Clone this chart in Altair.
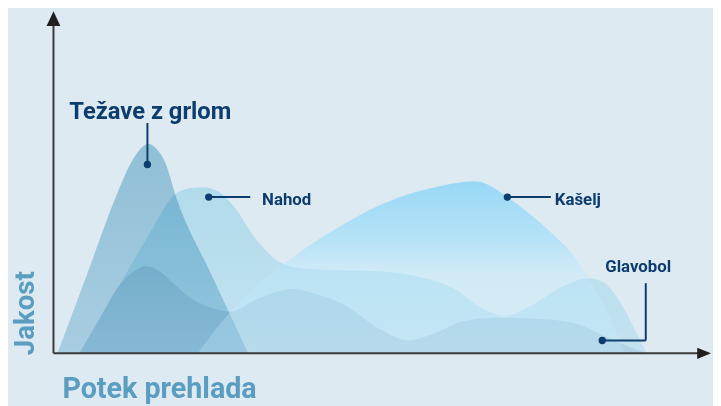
import altair as alt
import pandas as pd

# ---- data (x = course of the cold, y = intensity) ----
throat_x = [4, 34, 63, 78, 88, 96, 104, 113, 124, 160, 197]
throat_y = [0, 80, 158, 192, 207, 212, 207, 193, 158, 79, 0]

nose_x = [26, 46, 66, 96, 122, 138, 151, 166, 183, 203, 229, 250, 290, 329, 379, 406, 431, 456, 486, 516, 541, 556, 573, 586, 600]
nose_y = [0, 34, 68, 119, 160, 167, 168, 164, 148, 118, 92, 86, 84, 83, 75, 65, 47, 38, 50, 68, 76, 72, 52, 28, 0]

cough_x = [146, 179, 205, 231, 262, 296, 326, 356, 386, 406, 426, 446, 459, 500, 525, 541, 560, 578]
cough_y = [0, 42, 68, 89, 111, 132, 148, 160, 168, 172, 174, 167, 158, 125, 100, 76, 42, 0]

head_x = [26, 46, 66, 80, 93, 106, 120, 136, 160, 179, 200, 213, 243, 265, 296, 329, 359, 385, 413, 446, 486, 513, 535, 556, 579, 600]
head_y = [0, 34, 68, 82, 88, 84, 72, 58, 46, 42, 52, 58, 65, 60, 48, 25, 13, 20, 32, 36, 35, 33, 28, 18, 8, 0]

labels = ["Težave z grlom", "Nahod", "Kašelj", "Glavobol"]
label_x = [16, 211, 507, 558]
label_y = [237, 150, 150, 82]

dot_x = [95, 157, 459, 555]
dot_y = [191, 158, 158, 13]

x_title = "Potek prehlada"
y_title = "Jakost"

FONT = "Roboto"
NAVY = "#0c3d6e"
TITLE_C = "#5a9dc0"
BG = "#ddeaf2"
AX = "#3a3a3a"

X = alt.Scale(domain=[0, 664], nice=False, zero=False)
Y = alt.Scale(domain=[0, 345], nice=False, zero=False)


def frame(xs, ys):
    return pd.DataFrame({"x": xs, "y": ys})


def grad(stops):
    return alt.Gradient(
        gradient="linear",
        stops=[alt.GradientStop(color=c, offset=o) for o, c in stops],
        x1=0, x2=0, y1=0, y2=1,
    )


def area(xs, ys, g, blend=None, **kw):
    opts = dict(interpolate="monotone", color=g, **kw)
    if blend:
        opts["blend"] = blend
    return alt.Chart(frame(xs, ys)).mark_area(**opts).encode(
        x=alt.X("x:Q", scale=X, axis=None),
        y=alt.Y("y:Q", scale=Y, axis=None, stack=None),
    )


throat = area(throat_x, throat_y, grad([(0, "#a6d1e2"), (1, "#c3e0ee")]), blend="multiply")
nose = area(nose_x, nose_y, grad([(0, "#cdeff8"), (1, "#e2f7fd")]), blend="multiply")
head = area(head_x, head_y, grad([(0, "#e0eaf0"), (1, "#e6eef3")]), blend="multiply")
cough = area(
    cough_x, cough_y,
    grad([
        (0, "rgba(125,209,247,0.72)"),
        (0.35, "rgba(150,220,250,0.55)"),
        (0.55, "rgba(190,235,255,0.36)"),
        (1, "rgba(200,238,255,0.28)"),
    ]),
)

# axes with arrow heads
ax_df = pd.DataFrame({"a": [0]})
y_axis = alt.Chart(ax_df).mark_rule(color=AX, strokeWidth=2).encode(
    x=alt.value(0), y=alt.value(345), y2=alt.value(12))
x_axis = alt.Chart(ax_df).mark_rule(color=AX, strokeWidth=2).encode(
    x=alt.value(0), x2=alt.value(654), y=alt.value(345))
y_arrow = alt.Chart(ax_df).mark_point(
    shape="M0,-1L0.93,1L-0.93,1Z", filled=True, size=225, color="#231f20", opacity=1, strokeWidth=0
).encode(x=alt.value(0), y=alt.value(6.5))
x_arrow = alt.Chart(ax_df).mark_point(
    shape="M1,0L-1,0.8L-1,-0.8Z", filled=True, size=196, color="#231f20", opacity=1, strokeWidth=0
).encode(x=alt.value(658), y=alt.value(345))

# leader lines
lead_df = pd.DataFrame({
    "x": [95, 157, 459, 555, 599],
    "y": [191, 158, 158, 13, 13],
    "x2": [95, 199, 503, 599, 599],
    "y2": [233, 158, 158, 13, 71],
})
leaders = alt.Chart(lead_df).mark_rule(color=NAVY, strokeWidth=2).encode(
    x=alt.X("x:Q", scale=X), y=alt.Y("y:Q", scale=Y), x2="x2:Q", y2="y2:Q")

dots = alt.Chart(frame(dot_x, dot_y)).mark_circle(size=55, color=NAVY, opacity=1).encode(
    x=alt.X("x:Q", scale=X), y=alt.Y("y:Q", scale=Y))

lab_df = pd.DataFrame({"x": label_x, "y": label_y, "t": labels})
big_lab = alt.Chart(lab_df.iloc[:1]).mark_text(
    font=FONT, fontSize=24, fontWeight="bold", color=NAVY, align="left", baseline="alphabetic"
).encode(x=alt.X("x:Q", scale=X), y=alt.Y("y:Q", scale=Y), text="t:N")
small_lab = alt.Chart(lab_df.iloc[1:]).mark_text(
    font=FONT, fontSize=17, fontWeight="bold", color=NAVY, align="left", baseline="alphabetic"
).encode(x=alt.X("x:Q", scale=X), y=alt.Y("y:Q", scale=Y), text="t:N")

xt = alt.Chart(pd.DataFrame({"t": [x_title]})).mark_text(
    font=FONT, fontSize=29, fontWeight="bold", color=TITLE_C, align="left", baseline="alphabetic"
).encode(x=alt.value(9), y=alt.value(390), text="t:N")
yt = alt.Chart(pd.DataFrame({"t": [y_title]})).mark_text(
    font=FONT, fontSize=28, fontWeight="bold", color=TITLE_C, align="left", baseline="alphabetic", angle=270
).encode(x=alt.value(-20), y=alt.value(347), text="t:N")

chart = alt.layer(
    throat, nose, head, cough,
    y_axis, x_axis, y_arrow, x_arrow,
    leaders, dots, big_lab, small_lab, xt, yt,
).properties(
    width=664, height=345,
    padding={"left": 46, "top": 2, "right": 3, "bottom": 51},
    autosize=alt.AutoSizeParams(type="none"),
    background=BG,
).configure_view(stroke=None)

chart.save("out.html", embed_options={"renderer": "svg", "actions": False})
